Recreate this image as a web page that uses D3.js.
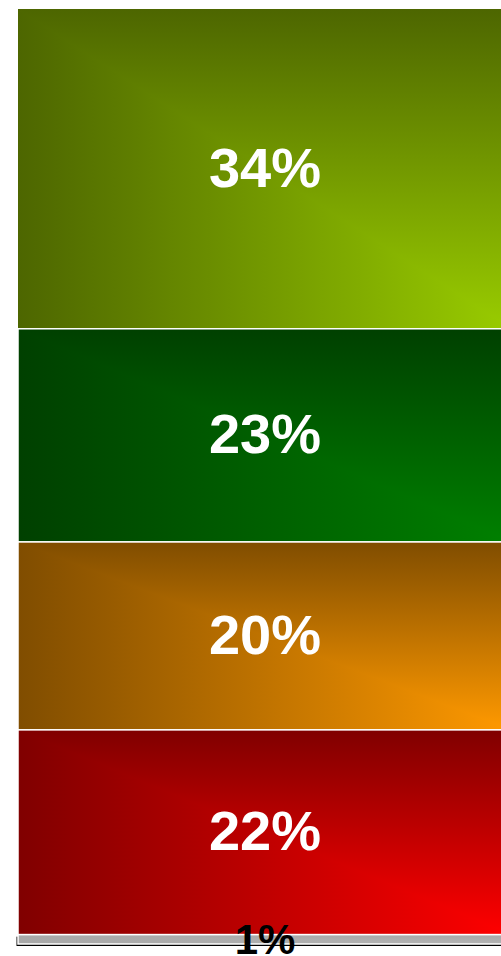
<!DOCTYPE html>
<html>
<head>
<meta charset="utf-8">
<script src="https://cdn.jsdelivr.net/npm/d3@7"></script>
<style>
  body { margin: 0; background: #fff; }
  svg { display: block; }
</style>
</head>
<body>
<div id="chart"></div>
<script>
// stacked shares, top to bottom
const categories = ["A", "B", "C", "D", "E"];
const shares = [34.2, 22.8, 20.1, 21.9, 1.0];
const labels = ["34%", "23%", "20%", "22%", "1%"];
const brightColors = ["#99cc00", "#008000", "#ff9900", "#ff0000", "#b3b3b3"];
const darkColors = ["#4d6600", "#004000", "#804d00", "#800000", "#a8a8a8"];

const width = 501;
const height = 956;

const svg = d3.select("#chart")
  .append("svg")
  .attr("width", width)
  .attr("height", height);

const defs = svg.append("defs");

const x = d3.scaleLinear().domain([0, 1]).range([18, 512]);
const y = d3.scaleLinear().domain([0, 100]).range([9, 944]);

let acc = 0;
const segs = shares.map((v, i) => {
  const s = { i: i, cat: categories[i], v: v, label: labels[i], y0: acc, y1: acc + v };
  acc += v;
  return s;
});

// two linear gradients per colour -> corner ("rectangular") fade
segs.forEach(d => {
  const gv = defs.append("linearGradient")
    .attr("id", "gv" + d.i)
    .attr("x1", 0).attr("y1", 0).attr("x2", 0).attr("y2", 1);
  gv.append("stop").attr("offset", 0).attr("stop-color", darkColors[d.i]);
  gv.append("stop").attr("offset", 1).attr("stop-color", brightColors[d.i]);

  const gh = defs.append("linearGradient")
    .attr("id", "gh" + d.i)
    .attr("x1", 0).attr("y1", 0).attr("x2", 1).attr("y2", 0);
  gh.append("stop").attr("offset", 0).attr("stop-color", darkColors[d.i]);
  gh.append("stop").attr("offset", 1).attr("stop-color", brightColors[d.i]);
});

const g = svg.append("g");

// small shadow under the last (grey) piece
const last = segs[segs.length - 1];
g.append("rect")
  .attr("x", x(0) - 1.5)
  .attr("y", y(last.y0) + 2)
  .attr("width", x(1) - x(0))
  .attr("height", y(last.y1) - y(last.y0))
  .attr("fill", "#000");

const seg = g.selectAll("g.seg")
  .data(segs)
  .enter()
  .append("g")
  .attr("class", "seg");

seg.append("rect")
  .attr("x", x(0))
  .attr("y", d => y(d.y0))
  .attr("width", x(1) - x(0))
  .attr("height", d => y(d.y1) - y(d.y0))
  .attr("fill", d => "url(#gv" + d.i + ")");

// lower-left triangle uses the horizontal fade
seg.append("path")
  .attr("d", d => {
    const x0 = x(0), x1 = x(1), t = y(d.y0), b = y(d.y1);
    return `M${x0},${t}L${x0},${b}L${x1},${b}Z`;
  })
  .attr("fill", d => "url(#gh" + d.i + ")");

seg.append("rect")
  .attr("x", x(0))
  .attr("y", d => y(d.y0))
  .attr("width", x(1) - x(0))
  .attr("height", d => y(d.y1) - y(d.y0))
  .attr("fill", "none")
  .attr("stroke", "#fff")
  .attr("stroke-width", d => d.i === 0 ? 0 : 1.5);

seg.append("text")
  .attr("x", (x(0) + x(1)) / 2)
  .attr("y", d => (y(d.y0) + y(d.y1)) / 2 + (d.i === segs.length - 1 ? 15 : 18))
  .attr("text-anchor", "middle")
  .attr("font-family", "Liberation Sans, Arial, sans-serif")
  .attr("font-weight", "bold")
  .attr("font-size", d => d.i === segs.length - 1 ? 42 : 56)
  .attr("fill", d => d.i === segs.length - 1 ? "#000" : "#fff")
  .text(d => d.label);
</script>
</body>
</html>
